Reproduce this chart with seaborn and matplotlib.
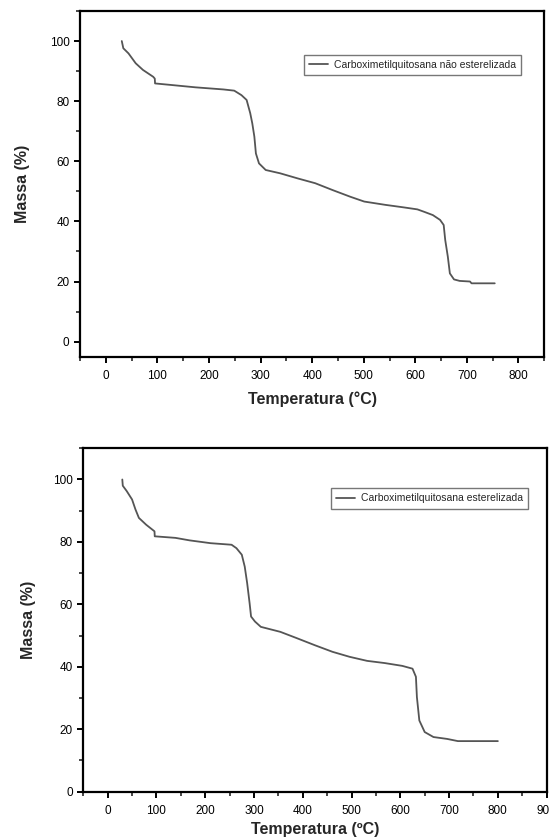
import matplotlib
matplotlib.use("Agg")
import matplotlib.pyplot as plt
import seaborn as sns
import pandas as pd
from matplotlib.ticker import MultipleLocator

# ---- data ----
temp_nao = [31, 34, 44, 58, 72, 92, 95, 95.5, 126, 174, 228, 249, 263, 273, 280, 284, 288, 291,
            297, 310, 338, 372, 406, 440, 474, 501, 542, 576, 604, 617, 634, 648, 655, 658,
            663, 667, 675, 686, 706, 709, 754]
massa_nao = [100, 97.6, 95.9, 92.6, 90.4, 88.1, 87.5, 85.9, 85.4, 84.6, 83.9, 83.5, 82, 80.4, 76,
             72.6, 68.2, 62.6, 59.3, 57.1, 56, 54.3, 52.7, 50.4, 48.2, 46.6, 45.5, 44.7, 44,
             43.2, 42.1, 40.5, 38.8, 33.8, 28.3, 22.7, 20.7, 20.2, 20, 19.4, 19.4]

temp_est = [30, 31, 39, 50, 57, 64, 79, 96, 96.5, 139, 168, 211, 254, 264, 275, 281, 286, 291,
            294, 302, 314, 354, 389, 425, 461, 496, 532, 568, 604, 625, 632, 634, 639, 650,
            668, 696, 718, 800]
massa_est = [100, 98, 96.3, 93.6, 90.4, 87.7, 85.5, 83.4, 81.8, 81.3, 80.5, 79.6, 79.1, 78, 75.9,
             72.1, 66.8, 60.4, 56.1, 54.5, 52.8, 51.2, 49.1, 46.9, 44.8, 43.2, 41.9, 41.2,
             40.3, 39.4, 36.8, 30.3, 22.8, 19.1, 17.5, 16.9, 16.2, 16.2]

label_nao = "Carboximetilquitosana não esterelizada"
label_est = "Carboximetilquitosana esterelizada"
xlabel_top = "Temperatura (°C)"
xlabel_bot = "Temperatura (ºC)"
ylabel = "Massa (%)"

sns.set_theme(style="ticks")
plt.rcParams["font.family"] = ["Liberation Sans", "DejaVu Sans"]

fig = plt.figure(figsize=(5.49, 8.39), dpi=100)
fig.patch.set_facecolor("white")

ax1 = fig.add_axes([0.1457, 0.5749, 0.8457, 0.412])
ax2 = fig.add_axes([0.1517, 0.0564, 0.844, 0.4093])

df1 = pd.DataFrame({"T": temp_nao, "M": massa_nao, "s": label_nao})
df2 = pd.DataFrame({"T": temp_est, "M": massa_est, "s": label_est})

line_color = "#555555"
sns.lineplot(data=df1, x="T", y="M", hue="s", palette=[line_color], sort=False,
             estimator=None, lw=1.3, ax=ax1)
sns.lineplot(data=df2, x="T", y="M", hue="s", palette=[line_color], sort=False,
             estimator=None, lw=1.3, ax=ax2)

configs = [
    (ax1, (-50, 850), (-5, 110), range(0, 801, 100), xlabel_top, (0.95, 0.873), 7, 14),
    (ax2, (-50, 900), (0, 110), range(0, 901, 100), xlabel_bot, (0.96, 0.8835), 4, 12),
]
for ax, xl, yl, xt, xlab, anchor, xpad, ypad in configs:
    ax.set_xlim(*xl)
    ax.set_ylim(*yl)
    ax.set_xticks(list(xt))
    ax.set_yticks(range(0, 101, 20))
    ax.xaxis.set_minor_locator(MultipleLocator(50))
    ax.yaxis.set_minor_locator(MultipleLocator(10))
    for sp in ax.spines.values():
        sp.set_visible(True)
        sp.set_linewidth(1.6)
        sp.set_color("black")
    ax.tick_params(which="major", direction="out", length=4.5, width=1.4,
                   labelsize=8.5, pad=3, colors="black", top=False, right=False)
    ax.tick_params(which="minor", direction="out", length=3, width=1.2,
                   top=False, right=False)
    ax.tick_params(axis="x", which="major", pad=5)
    ax.set_xlabel(xlab, fontsize=11.5, fontweight="bold", labelpad=xpad)
    ax.set_ylabel(ylabel, fontsize=11.5, fontweight="bold", labelpad=ypad)
    ax.set_facecolor("white")
    leg = ax.legend(loc="upper right", bbox_to_anchor=anchor, fontsize=7.5,
                    frameon=True, fancybox=False, handlelength=1.8,
                    handletextpad=0.6, borderpad=0.5, borderaxespad=0)
    leg.get_frame().set_edgecolor("#555555")
    leg.get_frame().set_linewidth(1.0)
    leg.set_title(None)

fig.savefig("out.png", dpi=100, facecolor="white")
